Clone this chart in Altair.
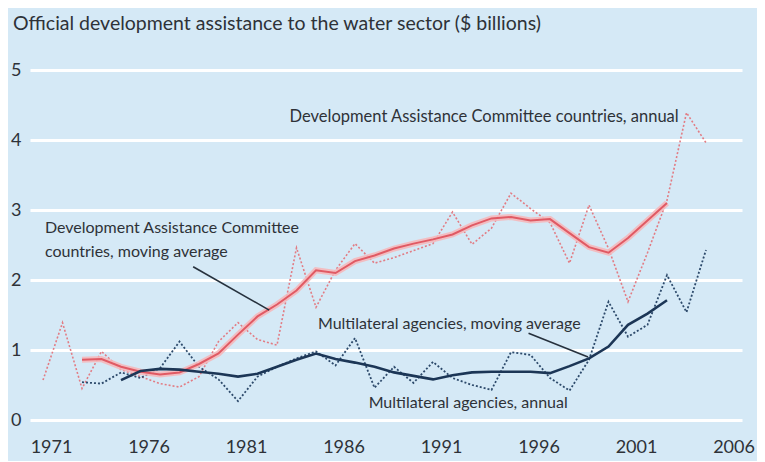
import altair as alt
import pandas as pd

# ---- data ----
annual_years = list(range(1971, 2006))
dac_annual = [0.57, 1.39, 0.45, 0.98, 0.72, 0.62, 0.52, 0.47, 0.62, 1.12,
              1.39, 1.15, 1.07, 2.46, 1.61, 2.14, 2.52, 2.24, 2.32, 2.42,
              2.52, 2.97, 2.51, 2.74, 3.24, 3.02, 2.82, 2.24, 3.07, 2.45,
              1.69, 2.39, 3.14, 4.39, 3.96]

multi_years = list(range(1973, 2006))
multi_annual = [0.54, 0.52, 0.68, 0.60, 0.74, 1.12, 0.76, 0.58, 0.27, 0.62,
                0.76, 0.88, 0.98, 0.78, 1.17, 0.46, 0.76, 0.53, 0.83, 0.60,
                0.50, 0.43, 0.97, 0.93, 0.60, 0.42, 0.86, 1.69, 1.19, 1.36,
                2.07, 1.54, 2.43]

dac_ma_years = list(range(1973, 2004))
dac_ma = [0.86, 0.87, 0.76, 0.69, 0.65, 0.68, 0.80, 0.95, 1.22, 1.48,
          1.65, 1.85, 2.14, 2.10, 2.27, 2.35, 2.45, 2.52, 2.58, 2.65,
          2.78, 2.88, 2.90, 2.85, 2.87, 2.67, 2.47, 2.39, 2.60, 2.85, 3.10]

multi_ma_years = list(range(1975, 2004))
multi_ma = [0.57, 0.70, 0.73, 0.72, 0.69, 0.66, 0.62, 0.66, 0.76, 0.86,
            0.95, 0.87, 0.82, 0.76, 0.68, 0.63, 0.58, 0.64, 0.68, 0.69,
            0.69, 0.69, 0.67, 0.77, 0.88, 1.05, 1.36, 1.52, 1.71]

tick_years = [1971, 1976, 1981, 1986, 1991, 1996, 2001, 2006]
y_ticks = [0, 1, 2, 3, 4, 5]

title_text = "Official development assistance to the water sector ($ billions)"

left_labels = ["Development Assistance Committee", "countries, moving average",
               "Multilateral agencies, moving average", "Multilateral agencies, annual"]
left_label_year = [1971.1, 1971.1, 1985.1, 1987.7]
left_label_value = [2.74, 2.40, 1.37, 0.24]

right_labels = ["Development Assistance Committee countries, annual"]
right_label_year = [2003.6]
right_label_value = [4.33]

leader_x1 = [1978.7, 1995.9]
leader_y1 = [2.19, 1.24]
leader_x2 = [1982.6, 1998.95]
leader_y2 = [1.57, 0.90]

# ---- tables ----
df_dac_a = pd.DataFrame({"year": annual_years, "value": dac_annual})
df_mul_a = pd.DataFrame({"year": multi_years, "value": multi_annual})
df_dac_m = pd.DataFrame({"year": dac_ma_years, "value": dac_ma})
df_mul_m = pd.DataFrame({"year": multi_ma_years, "value": multi_ma})
df_left = pd.DataFrame({"year": left_label_year, "value": left_label_value, "t": left_labels})
df_right = pd.DataFrame({"year": right_label_year, "value": right_label_value, "t": right_labels})
df_lead = pd.DataFrame({"x1": leader_x1, "y1": leader_y1, "x2": leader_x2, "y2": leader_y2})

FONT = "Lato"
TXT = "#2e3238"

x_scale = alt.Scale(domain=[1970.333, 2006.846], nice=False, zero=False)
y_scale = alt.Scale(domain=[0, 5], nice=False)

x_enc = alt.X("year:Q", scale=x_scale,
              axis=alt.Axis(values=tick_years, format="d", grid=False, domain=False,
                            ticks=False, labelPadding=18, labelOffset=8, title=None,
                            labelFontSize=18, labelFont=FONT, labelColor=TXT))
y_enc = alt.Y("value:Q", scale=y_scale,
              axis=alt.Axis(values=y_ticks, format="d", grid=True, gridColor="white", gridWidth=3,
                            domain=False, ticks=False, labelPadding=9, title=None,
                            labelFontSize=18, labelFont=FONT, labelColor=TXT))

dac_halo = alt.Chart(df_dac_m).mark_line(color="#f5b8bb", strokeWidth=6, opacity=0.9).encode(x=x_enc, y=y_enc)
dac_line = alt.Chart(df_dac_m).mark_line(color="#e05a64", strokeWidth=2).encode(x=x_enc, y=y_enc)
dac_dot = alt.Chart(df_dac_a).mark_line(color="#e27c84", strokeWidth=1.6, strokeDash=[2, 2]).encode(x=x_enc, y=y_enc)
mul_dot = alt.Chart(df_mul_a).mark_line(color="#2d4a6b", strokeWidth=1.8, strokeDash=[2, 2]).encode(x=x_enc, y=y_enc)
mul_line = alt.Chart(df_mul_m).mark_line(color="#1c3656", strokeWidth=2.6).encode(x=x_enc, y=y_enc)

leaders = alt.Chart(df_lead).mark_rule(color="#26313d", strokeWidth=1.6).encode(
    x=alt.X("x1:Q", scale=x_scale), y=alt.Y("y1:Q", scale=y_scale),
    x2="x2:Q", y2="y2:Q")

txt_left = alt.Chart(df_left).mark_text(align="left", baseline="middle", font=FONT,
                                        fontSize=16, color=TXT).encode(
    x=alt.X("year:Q", scale=x_scale), y=alt.Y("value:Q", scale=y_scale), text="t:N")
txt_right = alt.Chart(df_right).mark_text(align="right", baseline="middle", font=FONT,
                                          fontSize=16.5, color=TXT).encode(
    x=alt.X("year:Q", scale=x_scale), y=alt.Y("value:Q", scale=y_scale), text="t:N")

chart = alt.layer(dac_dot, mul_dot, dac_halo, dac_line, mul_line, leaders, txt_left, txt_right).properties(
    width=712, height=350,
    autosize=alt.AutoSizeParams(type="none"),
    padding={"left": 22, "top": 62, "right": 15, "bottom": 41},
    title=alt.TitleParams(text=title_text, anchor="start", frame="group", dx=-17, offset=27,
                          fontSize=19.5, font=FONT, fontWeight="normal", color=TXT),
).configure(background="#d5e9f6").configure_view(strokeWidth=0)

chart.save("out.html", embed_options={"renderer": "svg", "actions": False})
